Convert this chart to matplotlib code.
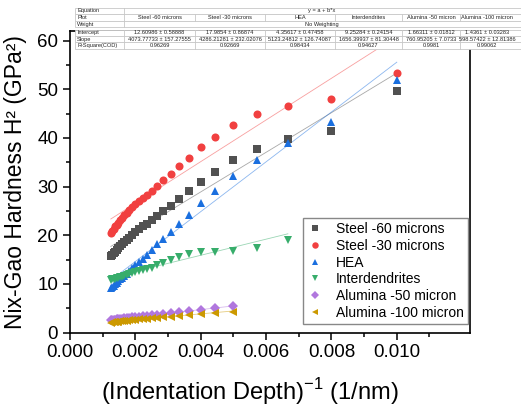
import matplotlib
matplotlib.use("Agg")
import matplotlib.pyplot as plt
from matplotlib.patches import Rectangle
import numpy as np

plt.rcParams['font.family'] = ['Liberation Sans', 'DejaVu Sans']
plt.rcParams['mathtext.fontset'] = 'custom'
plt.rcParams['mathtext.rm'] = 'Liberation Sans'

# indentation depths (nm), deepest last
depth_all = [100, 125, 150, 175, 200, 225, 250, 275, 300, 325, 350, 375, 400, 425, 450,
             475, 500, 525, 550, 575, 600, 625, 650, 675, 700, 725, 750, 775, 800]
depth_inter = depth_all[2:]
depth_alum = depth_all[4:]

steel60 = [49.6, 41.5, 39.8, 37.8, 35.5, 33.1, 31.0, 29.1, 27.5, 26.1, 24.9, 24.0, 23.2, 22.4, 21.8,
           21.2, 20.6, 20.0, 19.5, 19.0, 18.6, 18.1, 17.7, 17.3, 16.9, 16.6, 16.3, 16.0, 15.7]
steel30 = [53.4, 48.0, 46.5, 45.0, 42.7, 40.3, 38.1, 35.9, 34.2, 32.6, 31.4, 30.1, 29.0, 28.3, 27.6,
           27.0, 26.4, 25.8, 25.2, 24.6, 24.1, 23.6, 23.1, 22.6, 22.2, 21.8, 21.3, 20.9, 20.5]
hea = [52.0, 43.2, 39.0, 35.5, 32.2, 29.2, 26.6, 24.2, 22.3, 20.7, 19.2, 18.1, 16.9, 16.0, 15.2,
       14.5, 13.8, 13.2, 12.6, 12.1, 11.7, 11.3, 10.9, 10.5, 10.2, 9.9, 9.6, 9.4, 9.2]
inter = [19.1, 17.4, 16.8, 16.6, 16.5, 16.2, 15.5, 14.9, 14.3, 13.8, 13.3, 13.0, 12.8,
         12.6, 12.4, 12.2, 12.0, 11.8, 11.7, 11.5, 11.4, 11.3, 11.2, 11.1, 11.0, 10.9, 10.8]
alum50 = [5.45, 5.05, 4.7, 4.4, 4.2, 4.0, 3.85, 3.7, 3.57, 3.47, 3.37, 3.28, 3.2,
          3.12, 3.05, 2.98, 2.9, 2.85, 2.8, 2.75, 2.7, 2.65, 2.6, 2.55, 2.5]
alum100 = [4.3, 3.95, 3.75, 3.55, 3.4, 3.28, 3.17, 3.06, 2.96, 2.87, 2.78, 2.7, 2.62,
           2.55, 2.48, 2.42, 2.37, 2.32, 2.27, 2.23, 2.19, 2.15, 2.11, 2.08, 2.05]

names = ['Steel -60 microns', 'Steel -30 microns', 'HEA', 'Interdendrites',
         'Alumina -50 micron', 'Alumina -100 micron']
intercepts = [12.60986, 17.9854, 4.35617, 9.25284, 1.66311, 1.4361]
intercept_err = [0.58888, 0.86874, 0.47458, 0.24154, 0.01812, 0.03283]
slopes = [4073.77733, 4286.21281, 5123.24812, 1656.39937, 760.95205, 598.57422]
slope_err = [157.27555, 232.02076, 126.74087, 81.30448, 7.0733, 12.81386]
r_square = ['0.96269', '0.92669', '0.98434', '0.94627', '0.9981', '0.99062']

colors = ['#515151', '#F14040', '#1A6FDF', '#37AD6B', '#B177DE', '#CC9900']
markers = ['s', 'o', '^', 'v', 'D', '<']
msizes = [5.2, 5.8, 5.8, 5.8, 4.6, 5.8]

series = [(depth_all, steel60), (depth_all, steel30), (depth_all, hea),
          (depth_inter, inter), (depth_alum, alum50), (depth_alum, alum100)]

fig = plt.figure(figsize=(5.21, 4.09), dpi=100)
W, H = 521, 409
ax = fig.add_axes([70 / W, (H - 332.5) / H, 400 / W, (332.5 - 31) / H])

for i, (d, y) in enumerate(series):
    x = 1.0 / np.array(d, dtype=float)
    ax.plot(x, y, linestyle='none', marker=markers[i], color=colors[i],
            markersize=msizes[i], markeredgewidth=0, label=names[i], zorder=3)
    # linear fit line y = a + b*x over the data range
    xf = np.array([x.min(), x.max()])
    ax.plot(xf, intercepts[i] + slopes[i] * xf, color=colors[i], lw=0.6,
            alpha=0.5, zorder=2)

ax.set_xlim(0, 0.01224)
ax.set_ylim(0, 62)
ax.set_xticks([0, 0.002, 0.004, 0.006, 0.008, 0.010])
ax.set_xticklabels(['0.000', '0.002', '0.004', '0.006', '0.008', '0.010'])
ax.set_xticks(np.arange(0.001, 0.012, 0.002), minor=True)
ax.set_yticks([0, 10, 20, 30, 40, 50, 60])
ax.set_yticks([5, 15, 25, 35, 45, 55], minor=True)
ax.tick_params(which='major', direction='out', length=5, width=1.1, labelsize=13.5,
               top=False, right=False)
ax.tick_params(which='minor', direction='out', length=3, width=1.1, top=False, right=False)
for s in ax.spines.values():
    s.set_linewidth(1.2)

ax.set_xlabel(r'(Indentation Depth)$^{\mathregular{-1}}$ (1/nm)', fontsize=17)
ax.set_ylabel('Nix-Gao Hardness H² (GPa²)', fontsize=16.5)
ax.xaxis.set_label_coords(0.45, -0.145)
ax.yaxis.set_label_coords(-0.108, 0.5)

leg = ax.legend(loc='lower right', bbox_to_anchor=(0.995, 0.028), borderaxespad=0,
                fontsize=10, frameon=True, fancybox=False, edgecolor='#888888',
                framealpha=1, markerscale=0.8, handlelength=1.2, handletextpad=0.9,
                labelspacing=0.2, borderpad=0.3)
leg.get_frame().set_linewidth(1.0)

# fit results table across the top
tab = fig.add_axes([0, 0, 1, 1], zorder=5)
tab.set_xlim(0, W)
tab.set_ylim(H, 0)
tab.axis('off')

col_edges = [75, 124, 195, 265, 335, 402, 460, 540]
grid_c = '#c8c8c8'
fs = 4.1


def cell_row(y0, y1, label, values=None, span_text=None):
    tab.add_patch(Rectangle((col_edges[0], y0), col_edges[-1] - col_edges[0], y1 - y0,
                            facecolor='white', edgecolor=grid_c, lw=0.6))
    tab.plot([col_edges[1], col_edges[1]], [y0, y1], color=grid_c, lw=0.6)
    tab.text(col_edges[0] + 2, (y0 + y1) / 2, label, fontsize=fs, va='center',
             ha='left', color='#222222')
    if values is not None:
        for k, v in enumerate(values):
            cx = (col_edges[k + 1] + col_edges[k + 2]) / 2
            if k == len(values) - 1:
                cx = 487
            tab.text(cx, (y0 + y1) / 2, v, fontsize=fs, va='center', ha='center',
                     color='#222222')
            if k > 0:
                tab.plot([col_edges[k + 1]] * 2, [y0, y1], color=grid_c, lw=0.6)
    if span_text is not None:
        tab.text(322, (y0 + y1) / 2, span_text, fontsize=fs, va='center', ha='center',
                 color='#222222')


cell_row(7.5, 14.2, 'Equation', span_text='y = a + b*x')
cell_row(14.2, 20.8, 'Plot', values=names)
cell_row(20.8, 27.4, 'Weight', span_text='No Weighting')
cell_row(29.5, 36.0, 'Intercept',
         values=[f'{a} \u00b1 {e}' for a, e in zip(intercepts, intercept_err)])
cell_row(36.0, 42.4, 'Slope',
         values=[f'{b} \u00b1 {e}' for b, e in zip(slopes, slope_err)])
cell_row(42.4, 48.8, 'R-Square(COD)', values=r_square)

fig.savefig('out.png', dpi=100)
